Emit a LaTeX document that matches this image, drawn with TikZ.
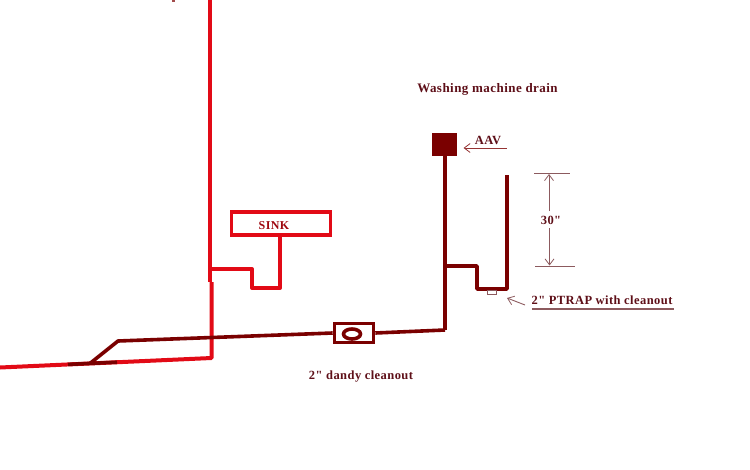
\documentclass[tikz,border=0pt]{standalone}
\usepackage{fontspec}
\newfontfamily\lblfont[LetterSpace=3.5]{Liberation Serif}
\usetikzlibrary{arrows.meta,shapes.geometric}
\definecolor{pipered}{HTML}{E20A16}
\definecolor{pipedark}{HTML}{7A0000}
\definecolor{labeltext}{HTML}{5E0F18}
\definecolor{thinline}{HTML}{8C5A5E}
\tikzset{
  redpipe/.style={draw=pipered,line width=4pt,line join=round},
  darkpipe/.style={draw=pipedark,line width=3.6pt,line join=round},
  txtlabel/.style={text=labeltext,font=\lblfont\bfseries\fontsize{12.5}{14}\selectfont,inner sep=0pt},
  thinstroke/.style={draw=thinline,line width=0.9pt},
  opentip/.style={-{Straight Barb[length=6pt,width=9pt,line width=0.8pt]}}
}
\begin{document}
\begin{tikzpicture}[x=1pt,y=-1pt]
\useasboundingbox (0,0) rectangle (750,469);
% coordinates
\coordinate (mainL) at (0,367.5);
\coordinate (mainC) at (211.5,358);
\coordinate (jogB) at (211.5,282);
\coordinate (jogT) at (210.3,282);
\coordinate (stackT) at (210.3,0);
\coordinate (sinkT) at (210.3,269);
\coordinate (sinkA) at (252,269);
\coordinate (sinkB) at (252,288);
\coordinate (sinkC) at (280,288);
\coordinate (wyeL) at (68,364.4);
\coordinate (wyeR) at (117,362.2);
\coordinate (wyeM) at (90,363.4);
\coordinate (wyeT) at (118,341);
\coordinate (ventB) at (445,330);
\coordinate (trapA) at (445,266);
\coordinate (trapB) at (477,266);
\coordinate (trapC) at (477,289);
\coordinate (trapD) at (507,289);
\coordinate (trapE) at (507,175);
% red pipes
\draw[redpipe] (mainL) -- (mainC) -- (jogB);
\draw[redpipe] (jogT) -- (stackT);
\node[draw=pipered,line width=3.6pt,minimum width=99pt,minimum height=23pt,inner sep=0pt] (sink) at (281,223.5) {};
\node[text=pipered!70!black,font=\lblfont\fontsize{12}{14}\selectfont\bfseries,inner sep=0pt] (sinklabel) at (274,226) {SINK};
\draw[redpipe] (sinkT) -- (sinkA) -- (sinkB) -- (sinkC) -- (sink.south -| sinkC);
% dark pipes
\draw[darkpipe] (wyeL) -- (wyeR);
\node[draw=pipedark,line width=3.6pt,minimum width=39pt,minimum height=19pt,inner sep=0pt] (dandy) at (354,333) {};
\node[draw=pipedark,line width=3.6pt,ellipse,minimum width=17pt,minimum height=10pt,inner sep=0pt] (dandyplug) at (352,334) {};
\draw[darkpipe] (wyeM) -- (wyeT) -- (dandy.west);
\draw[darkpipe] (dandy.east) -- (ventB);
\node[fill=pipedark,minimum width=25pt,minimum height=23pt,inner sep=0pt] (aav) at (444.5,144.5) {};
\draw[darkpipe] (aav.south -| ventB) -- (ventB);
\draw[darkpipe] (trapA) -- (trapB) -- (trapC) -- (trapD) -- (trapE);
\node[draw=thinline,line width=0.6pt,minimum width=9pt,minimum height=4pt,inner sep=0pt] (plug) at (491.5,292.5) {};
% labels
\node[txtlabel,font=\lblfont\bfseries\fontsize{13}{15}\selectfont] (title) at (487.5,89) {Washing machine drain};
\node[txtlabel] (aavlabel) at (488,140) {AAV};
\node[txtlabel] (thirty) at (551,220) {30"};
\node[txtlabel] (trap) at (602,300) {2" PTRAP with cleanout};
\node[txtlabel] (dandylabel) at (361,377) {2" dandy cleanout};
% speck at the top edge
\fill[pipedark!70!white] (172,0) rectangle (175,1.5);
% thin lines
\coordinate (aavR) at (506.5,148);
\coordinate (aavH) at (463.5,148);
\draw[thinstroke,opentip,draw=pipedark!80!white] (aavR) -- (aavH);
\coordinate (dimTL) at (534,173.5);
\coordinate (dimTR) at (570,173.5);
\coordinate (dimBL) at (535,266);
\coordinate (dimBR) at (575,266);
\draw[thinstroke] (dimTL) -- (dimTR);
\draw[thinstroke] (dimBL) -- (dimBR);
\coordinate (dimUpS) at (549,211);
\coordinate (dimUpE) at (549,174);
\coordinate (dimDnS) at (549.5,228);
\coordinate (dimDnE) at (549.5,265.5);
\draw[thinstroke,opentip] (dimUpS) -- (dimUpE);
\draw[thinstroke,opentip] (dimDnS) -- (dimDnE);
\coordinate (trapArrowS) at (525,305);
\coordinate (trapArrowE) at (507,298);
\draw[thinstroke,opentip] (trapArrowS) -- (trapArrowE);
\coordinate (underL) at (532,309);
\coordinate (underR) at (674,309);
\draw[draw=thinline,line width=1.3pt] (underL) -- (underR);
\end{tikzpicture}
\end{document}
